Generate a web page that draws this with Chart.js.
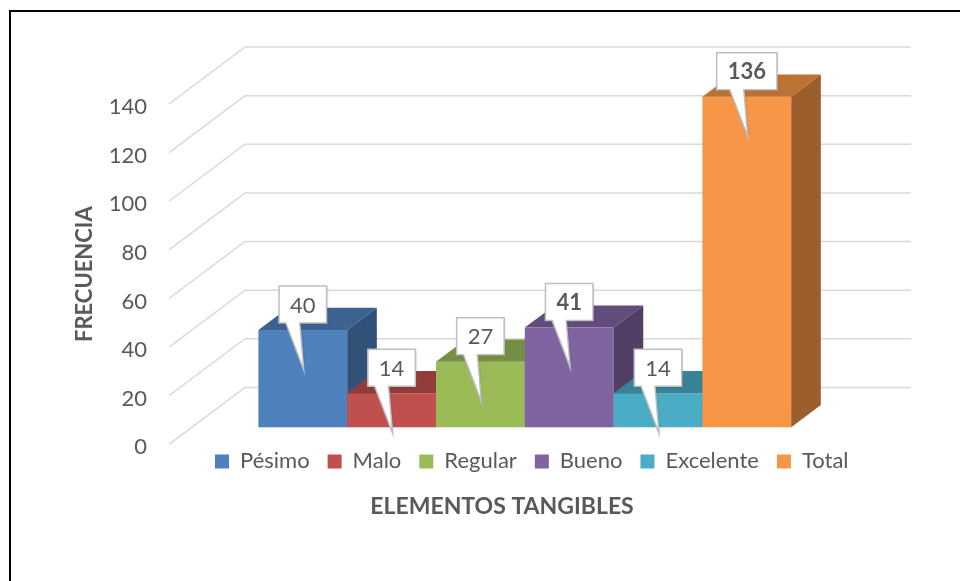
<!DOCTYPE html>
<html>
<head>
<meta charset="utf-8">
<script src="https://cdn.jsdelivr.net/npm/chart.js@4.4.1/dist/chart.umd.min.js"></script>
<style>
  html, body { margin: 0; padding: 0; background: #fff; }
  #wrap { width: 960px; height: 581px; }
</style>
</head>
<body>
<div id="wrap"><canvas id="chart"></canvas></div>
<script>
// data
const categories = ['Pésimo', 'Malo', 'Regular', 'Bueno', 'Excelente', 'Total'];
const values = [40, 14, 27, 41, 14, 136];
const yTicks = [0, 20, 40, 60, 80, 100, 120, 140];
const xTitle = 'ELEMENTOS TANGIBLES';
const yTitle = 'FRECUENCIA';

// styling
const colors = ['#4F81BD', '#C0504D', '#9BBB59', '#8064A2', '#4BACC6', '#F79646'];
const boldLabels = [false, false, false, true, false, true];
const FONT = 'Lato, "Open Sans", sans-serif';
const TEXT = '#595959';
const DEPTH_X = 76, DEPTH_Y = -57;     // depth of the 3D walls
const BAR_FRONT = 0.3, BAR_BACK = 0.69; // where the bars sit in that depth

function shade(hex, f) {
  const n = parseInt(hex.slice(1), 16);
  const r = Math.round(((n >> 16) & 255) * f);
  const g = Math.round(((n >> 8) & 255) * f);
  const b = Math.round((n & 255) * f);
  return `rgb(${r},${g},${b})`;
}

function poly(ctx, pts, fill) {
  ctx.beginPath();
  ctx.moveTo(pts[0][0], pts[0][1]);
  for (let i = 1; i < pts.length; i++) ctx.lineTo(pts[i][0], pts[i][1]);
  ctx.closePath();
  ctx.fillStyle = fill;
  ctx.fill();
}

const threeD = {
  id: 'threeD',
  afterLayout(chart) {
    // legend sits tighter under the plot, axis title under the legend
    const lg = chart.legend;
    lg.top -= 12; lg.bottom -= 12;
    lg.left += 127; lg.right += 127;
    const xs = chart.scales.x;
    xs.top -= 2; xs.bottom -= 2;
  },
  beforeDraw(chart) {
    const ctx = chart.ctx;
    ctx.save();
    ctx.fillStyle = '#fff';
    ctx.fillRect(0, 0, chart.width, chart.height);
    ctx.strokeStyle = '#000';
    ctx.lineWidth = 2;
    ctx.strokeRect(10, 11, chart.width + 20, chart.height + 20);
    ctx.restore();
  },
  beforeDatasetsDraw(chart) {
    const {ctx, chartArea: a, scales: {y}} = chart;
    ctx.save();
    ctx.strokeStyle = '#D9D9D9';
    ctx.lineWidth = 1.5;
    y.ticks.forEach(t => {
      const py = y.getPixelForValue(t.value);
      ctx.beginPath();
      ctx.moveTo(a.left, py);
      ctx.lineTo(a.left + DEPTH_X, py + DEPTH_Y);
      ctx.lineTo(a.right + DEPTH_X, py + DEPTH_Y);
      ctx.stroke();
    });
    ctx.restore();
  },
  beforeDatasetDraw() {
    return false; // bars are drawn in 3D below
  },
  afterDatasetsDraw(chart) {
    const ctx = chart.ctx;
    const ox = BAR_FRONT * DEPTH_X, oy = BAR_FRONT * DEPTH_Y;
    const dx = (BAR_BACK - BAR_FRONT) * DEPTH_X, dy = (BAR_BACK - BAR_FRONT) * DEPTH_Y;
    const tops = [];
    ctx.save();
    chart.data.datasets.forEach((ds, i) => {
      const el = chart.getDatasetMeta(i).data[0];
      const L = el.x - el.width / 2 + ox, R = el.x + el.width / 2 + ox;
      const T = el.y + oy, B = el.base + oy;
      const c = ds.backgroundColor;
      ctx.fillStyle = c;
      ctx.fillRect(L, T, R - L, B - T);
      poly(ctx, [[L, T], [R, T], [R + dx, T + dy], [L + dx, T + dy]], shade(c, 0.76));
      poly(ctx, [[R, T], [R + dx, T + dy], [R + dx, B + dy], [R, B]], shade(c, 0.63));
      tops.push({cx: (L + R) / 2, top: T, text: String(ds.data[0]), bold: boldLabels[i]});
    });

    // callout labels
    tops.forEach(t => {
      ctx.font = (t.bold ? 'bold ' : '') + '22px ' + FONT;
      const w = ctx.measureText(t.text).width + 22;
      const h = 37;
      const bot = t.top - 7, topY = bot - h;
      const l = t.cx - w / 2, r = t.cx + w / 2;
      ctx.beginPath();
      ctx.moveTo(l, topY);
      ctx.lineTo(r, topY);
      ctx.lineTo(r, bot);
      ctx.lineTo(t.cx - 3, bot);
      ctx.lineTo(t.cx + 1, t.top + 40);
      ctx.lineTo(t.cx - 17, bot);
      ctx.lineTo(l, bot);
      ctx.closePath();
      ctx.fillStyle = '#fff';
      ctx.shadowColor = 'rgba(0,0,0,0.18)';
      ctx.shadowBlur = 2;
      ctx.shadowOffsetX = 1;
      ctx.shadowOffsetY = 1;
      ctx.fill();
      ctx.shadowColor = 'transparent';
      ctx.strokeStyle = '#BFBFBF';
      ctx.lineWidth = 1.5;
      ctx.stroke();
      ctx.fillStyle = TEXT;
      ctx.textAlign = 'center';
      ctx.textBaseline = 'middle';
      ctx.fillText(t.text, t.cx, topY + h / 2 + 1);
    });
    ctx.restore();
  }
};

new Chart(document.getElementById('chart'), {
  type: 'bar',
  data: {
    labels: [''],
    datasets: categories.map((name, i) => ({
      label: name,
      data: [values[i]],
      backgroundColor: colors[i],
      borderWidth: 0,
      barPercentage: 1,
      categoryPercentage: 0.8
    }))
  },
  options: {
    responsive: true,
    maintainAspectRatio: false,
    animation: false,
    layout: { padding: { top: 104, left: 70, right: 125, bottom: 59 } },
    plugins: {
      tooltip: { enabled: false },
      legend: {
        position: 'bottom',
        align: 'start',
        labels: {
          boxWidth: 14,
          boxHeight: 14,
          padding: 18,
          color: TEXT,
          font: { family: FONT, size: 22 }
        }
      }
    },
    scales: {
      x: {
        weight: 1500,
        grid: { display: false, drawTicks: false },
        border: { display: false },
        ticks: { display: false },
        title: {
          display: true,
          text: xTitle,
          color: TEXT,
          padding: 0,
          font: { family: FONT, size: 23, weight: 'bold' }
        }
      },
      y: {
        min: 0,
        max: 140,
        afterBuildTicks: s => { s.ticks = yTicks.map(v => ({ value: v })); },
        afterFit: s => { s.width = 99; },
        grid: { display: false, drawTicks: false },
        border: { display: false },
        ticks: { color: TEXT, padding: 22, labelOffset: 3, font: { family: FONT, size: 22 } },
        title: {
          display: true,
          text: yTitle,
          color: TEXT,
          padding: { top: 2, bottom: 2 },
          font: { family: FONT, size: 22, weight: 'bold' }
        }
      }
    }
  },
  plugins: [threeD]
});
</script>
</body>
</html>
